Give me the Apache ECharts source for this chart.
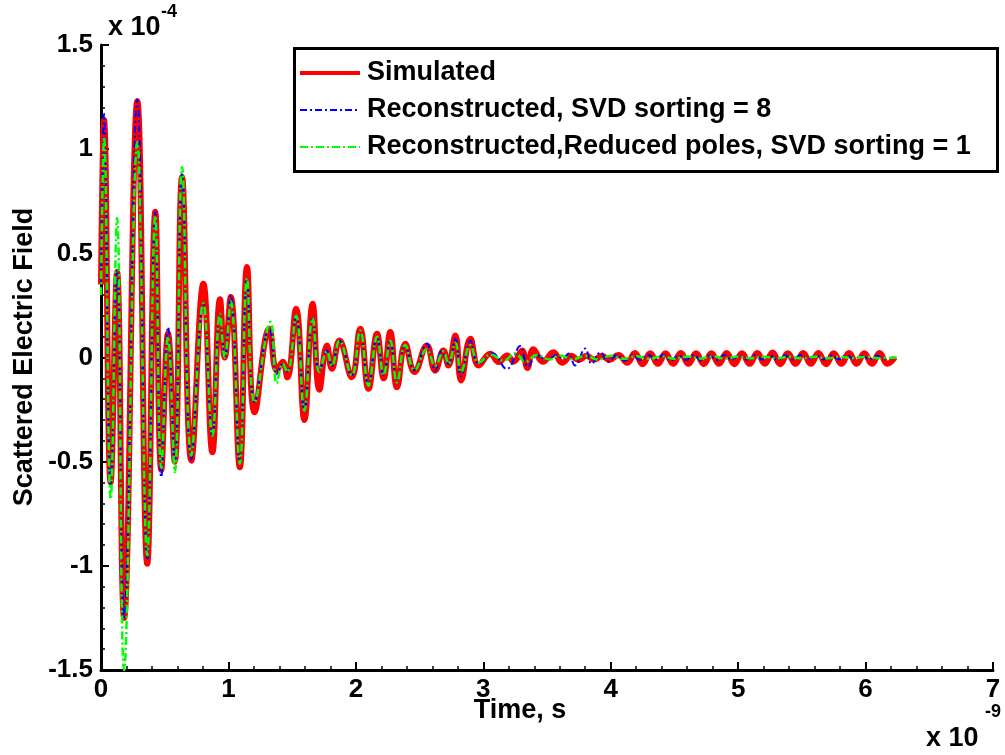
<!DOCTYPE html>
<html>
<head>
<meta charset="utf-8">
<script src="https://cdn.jsdelivr.net/npm/echarts@6/dist/echarts.min.js"></script>
<style>
  html, body { margin: 0; padding: 0; background: #fff; }
  #chart { width: 1005px; height: 755px; }
</style>
</head>
<body>
<div id="chart"></div>
<script>
// Time axis in units of 1e-9 s, field in units of 1e-4
const xTickValues = [0, 1, 2, 3, 4, 5, 6, 7];
const yTickValues = [-1.5, -1, -0.5, 0, 0.5, 1, 1.5];

const seriesNames = [
  'Simulated',
  'Reconstructed, SVD sorting = 8',
  'Reconstructed,Reduced poles, SVD sorting = 1'
];

// [time, field] turning points of each trace
const simulated = [
  [0.000, 0.35], [0.024, 1.14], [0.076, -0.60], [0.126, 0.41], [0.181, -1.25],
  [0.285, 1.23], [0.363, -0.99], [0.426, 0.70], [0.473, -0.54], [0.526, 0.115],
  [0.579, -0.50], [0.636, 0.867], [0.709, -0.495], [0.803, 0.354], [0.874, -0.455],
  [0.934, 0.28], [0.971, 0.00], [1.018, 0.29], [1.089, -0.527], [1.146, 0.434],
  [1.206, -0.263], [1.321, 0.138], [1.379, -0.063], [1.426, -0.02], [1.462, -0.095],
  [1.531, 0.234], [1.596, -0.30], [1.661, 0.258], [1.714, -0.155], [1.773, 0.058],
  [1.812, -0.054], [1.871, 0.082], [1.968, -0.095], [2.034, 0.138], [2.099, -0.15],
  [2.166, 0.114], [2.218, -0.10], [2.270, 0.122], [2.323, -0.143], [2.388, 0.066],
  [2.460, -0.07], [2.557, 0.058], [2.622, -0.063], [2.687, 0.034], [2.726, -0.038],
  [2.781, 0.106], [2.826, -0.11], [2.899, 0.09], [2.964, -0.038], [3.055, 0.018],
  [3.121, -0.022], [3.187, 0.01], [3.239, -0.02], [3.303, 0.034], [3.346, -0.05],
  [3.393, 0.04], [3.469, -0.02], [3.55, 0.025], [3.62, -0.025], [3.69, 0.008],
  [3.75, -0.012], [3.81, 0.008], [3.87, -0.01], [3.93, 0.008], [3.99, -0.012],
  [4.06, 0.012], [4.13, -0.025], [4.19, 0.022], [4.25, -0.032], [4.31, 0.02],
  [4.37, -0.03], [4.43, 0.02], [4.49, -0.03], [4.55, 0.022], [4.61, -0.03],
  [4.67, 0.02], [4.73, -0.032], [4.79, 0.02], [4.85, -0.03], [4.91, 0.022],
  [4.97, -0.032], [5.03, 0.02], [5.09, -0.03], [5.15, 0.022], [5.21, -0.03],
  [5.27, 0.024], [5.33, -0.032], [5.39, 0.02], [5.45, -0.03], [5.51, 0.022],
  [5.57, -0.03], [5.63, 0.022], [5.69, -0.032], [5.75, 0.02], [5.81, -0.03],
  [5.87, 0.022], [5.93, -0.03], [5.99, 0.02], [6.05, -0.03], [6.11, 0.022],
  [6.17, -0.03], [6.23, 0.0]
];

const reconstructedSvd8 = [
  [0.000, 0.35], [0.024, 1.17], [0.076, -0.61], [0.126, 0.42], [0.181, -1.25],
  [0.285, 1.24], [0.363, -0.97], [0.426, 0.70], [0.473, -0.575], [0.526, 0.146],
  [0.579, -0.50], [0.636, 0.88], [0.709, -0.49], [0.803, 0.26], [0.874, -0.375],
  [0.934, 0.21], [0.971, 0.00], [1.018, 0.30], [1.089, -0.51], [1.146, 0.38],
  [1.206, -0.215], [1.321, 0.14], [1.379, -0.08], [1.426, -0.03], [1.462, -0.07],
  [1.531, 0.20], [1.596, -0.255], [1.661, 0.194], [1.714, -0.07], [1.773, 0.034],
  [1.812, -0.04], [1.871, 0.08], [1.968, -0.085], [2.034, 0.13], [2.099, -0.135],
  [2.166, 0.10], [2.218, -0.085], [2.270, 0.08], [2.323, -0.12], [2.388, 0.06],
  [2.460, -0.06], [2.557, 0.066], [2.622, -0.063], [2.672, 0.03], [2.726, -0.03],
  [2.781, 0.09], [2.826, -0.09], [2.899, 0.08], [2.964, -0.03], [3.07, 0.02],
  [3.185, -0.055], [3.29, 0.055], [3.35, -0.045], [3.42, 0.01], [3.50, -0.01],
  [3.58, 0.012], [3.62, -0.005], [3.67, 0.019], [3.72, -0.038], [3.80, 0.043],
  [3.85, -0.03], [3.92, 0.025], [3.98, -0.02], [4.05, 0.012], [4.11, -0.015],
  [4.17, 0.01], [4.23, -0.012], [4.29, 0.015], [4.35, -0.01], [4.41, 0.012],
  [4.47, -0.015], [4.53, 0.01], [4.59, -0.012], [4.65, 0.012], [4.71, -0.015],
  [4.77, 0.01], [4.83, -0.012], [4.89, 0.012], [4.95, -0.01], [5.01, 0.012],
  [5.07, -0.01], [5.13, 0.012], [5.19, -0.01], [5.25, 0.01], [5.31, -0.012],
  [5.37, 0.01], [5.43, -0.01], [5.49, 0.012], [5.55, -0.008], [5.61, 0.01],
  [5.67, -0.01], [5.73, 0.01], [5.79, -0.008], [5.85, 0.01], [5.91, -0.008],
  [5.97, 0.008], [6.03, -0.008], [6.09, 0.008], [6.15, -0.006], [6.25, 0.0]
];

const reducedPolesSvd1 = [
  [0.000, 0.30], [0.024, 1.06], [0.076, -0.68], [0.126, 0.67], [0.181, -1.50],
  [0.285, 1.035], [0.363, -0.95], [0.426, 0.68], [0.473, -0.53], [0.526, 0.10],
  [0.579, -0.55], [0.636, 0.915], [0.709, -0.47], [0.803, 0.26], [0.874, -0.375],
  [0.934, 0.21], [0.971, 0.00], [1.018, 0.27], [1.089, -0.51], [1.146, 0.38],
  [1.206, -0.215], [1.330, 0.17], [1.379, -0.125], [1.426, -0.03], [1.462, -0.07],
  [1.531, 0.20], [1.596, -0.255], [1.661, 0.19], [1.714, -0.07], [1.773, 0.03],
  [1.812, -0.04], [1.871, 0.08], [1.968, -0.085], [2.034, 0.13], [2.099, -0.135],
  [2.166, 0.10], [2.218, -0.085], [2.270, 0.08], [2.323, -0.12], [2.388, 0.06],
  [2.460, -0.06], [2.557, 0.04], [2.622, -0.04], [2.687, 0.03], [2.726, -0.03],
  [2.781, 0.07], [2.826, -0.07], [2.899, 0.06], [2.964, -0.025], [3.06, 0.015],
  [3.16, -0.015], [3.25, 0.02], [3.33, -0.02], [3.42, 0.012], [3.52, -0.01],
  [3.60, 0.01], [3.70, -0.008], [3.80, 0.008], [3.90, -0.01], [4.00, 0.008],
  [4.10, -0.006], [4.20, 0.006], [4.30, -0.006], [4.40, 0.006], [4.50, -0.006],
  [4.60, 0.005], [4.70, -0.005], [4.80, 0.005], [4.90, -0.005], [5.00, 0.005],
  [5.10, -0.004], [5.20, 0.004], [5.30, -0.004], [5.40, 0.004], [5.50, -0.004],
  [5.60, 0.004], [5.70, -0.004], [5.80, 0.004], [5.90, -0.004], [6.00, 0.004],
  [6.10, -0.003], [6.25, 0.0]
];

const FONT = '"Liberation Sans", Arial, Helvetica, sans-serif';

// Line styles shared by the traces and their legend keys
const traceStyles = [
  { color: '#ff0000', width: 6, type: 'solid', legendWidth: 4 },
  { color: '#0000ff', width: 2, type: [7, 3, 2, 3], legendWidth: 2 },
  { color: '#00ff00', width: 2.5, type: [8, 3, 2, 3], legendWidth: 2 }
];

const chart = echarts.init(document.getElementById('chart'), null, { renderer: 'canvas' });

const axisCommon = {
  axisLine: { show: true, onZero: false, lineStyle: { color: '#000', width: 3 } },
  axisTick: { show: true, inside: true, length: 8, lineStyle: { color: '#000', width: 2 } },
  minorTick: { show: true, splitNumber: 5, length: 4, lineStyle: { color: '#000', width: 1.5 } },
  splitLine: { show: false },
  minorSplitLine: { show: false }
};

// Legend box drawn as a framed group: key line + label per trace
const legendBox = { x: 294.5, y: 48.5, w: 703, h: 123 };
const legendRowY = [73, 110, 147];
const legendItems = [
  {
    type: 'rect',
    shape: { x: legendBox.x, y: legendBox.y, width: legendBox.w, height: legendBox.h },
    style: { fill: '#fff', stroke: '#000', lineWidth: 3 },
    z: 10
  }
];
seriesNames.forEach(function (name, i) {
  const st = traceStyles[i];
  legendItems.push({
    type: 'line',
    shape: { x1: 300, y1: legendRowY[i], x2: 360, y2: legendRowY[i] },
    style: { stroke: st.color, lineWidth: st.legendWidth, lineDash: st.type === 'solid' ? null : st.type },
    z: 11
  });
  legendItems.push({
    type: 'text', x: 367, y: legendRowY[i],
    style: { text: name, font: 'bold 27px ' + FONT, fill: '#000',
             textAlign: 'left', textVerticalAlign: 'middle' },
    z: 11
  });
});

chart.setOption({
  animation: false,
  backgroundColor: '#fff',
  grid: {
    left: 101, right: 12, top: 45, bottom: 85,
    containLabel: false, outerBoundsMode: 'none'
  },
  xAxis: Object.assign({
    type: 'value',
    min: xTickValues[0], max: xTickValues[xTickValues.length - 1], interval: 1,
    axisLabel: {
      color: '#000', fontSize: 26, fontWeight: 'bold', fontFamily: FONT, margin: 7,
      showMinLabel: true, showMaxLabel: true, hideOverlap: false
    }
  }, axisCommon),
  yAxis: Object.assign({
    type: 'value',
    min: yTickValues[0], max: yTickValues[yTickValues.length - 1], interval: 0.5,
    axisLabel: {
      color: '#000', fontSize: 26, fontWeight: 'bold', fontFamily: FONT, margin: 8,
      showMinLabel: true, showMaxLabel: true, hideOverlap: false
    }
  }, axisCommon),
  graphic: [
    {
      type: 'text', x: 25, y: 357, rotation: Math.PI / 2,
      style: { text: 'Scattered Electric Field', font: 'bold 27px ' + FONT, fill: '#000',
               textAlign: 'center', textVerticalAlign: 'middle' }
    },
    {
      type: 'text', x: 520, y: 711,
      style: { text: 'Time, s', font: 'bold 27px ' + FONT, fill: '#000',
               textAlign: 'center', textVerticalAlign: 'middle' }
    },
    {
      type: 'text', x: 108, y: 28,
      style: { text: 'x 10', font: 'bold 27px ' + FONT, fill: '#000',
               textAlign: 'left', textVerticalAlign: 'middle' }
    },
    {
      type: 'text', x: 161, y: 12,
      style: { text: '-4', font: 'bold 18px ' + FONT, fill: '#000',
               textAlign: 'left', textVerticalAlign: 'middle' }
    },
    {
      type: 'text', x: 926, y: 739,
      style: { text: 'x 10', font: 'bold 27px ' + FONT, fill: '#000',
               textAlign: 'left', textVerticalAlign: 'middle' }
    },
    {
      type: 'text', x: 985, y: 712,
      style: { text: '-9', font: 'bold 18px ' + FONT, fill: '#000',
               textAlign: 'left', textVerticalAlign: 'middle' }
    },
    { type: 'group', children: legendItems }
  ],
  series: seriesNames.map(function (name, i) {
    const st = traceStyles[i];
    const data = [simulated, reconstructedSvd8, reducedPolesSvd1][i];
    return {
      name: name, type: 'line', data: data,
      smooth: 0.45, showSymbol: false, symbol: 'none', z: 2 + i,
      lineStyle: { color: st.color, width: st.width, type: st.type },
      itemStyle: { color: st.color }
    };
  })
});
</script>
</body>
</html>
